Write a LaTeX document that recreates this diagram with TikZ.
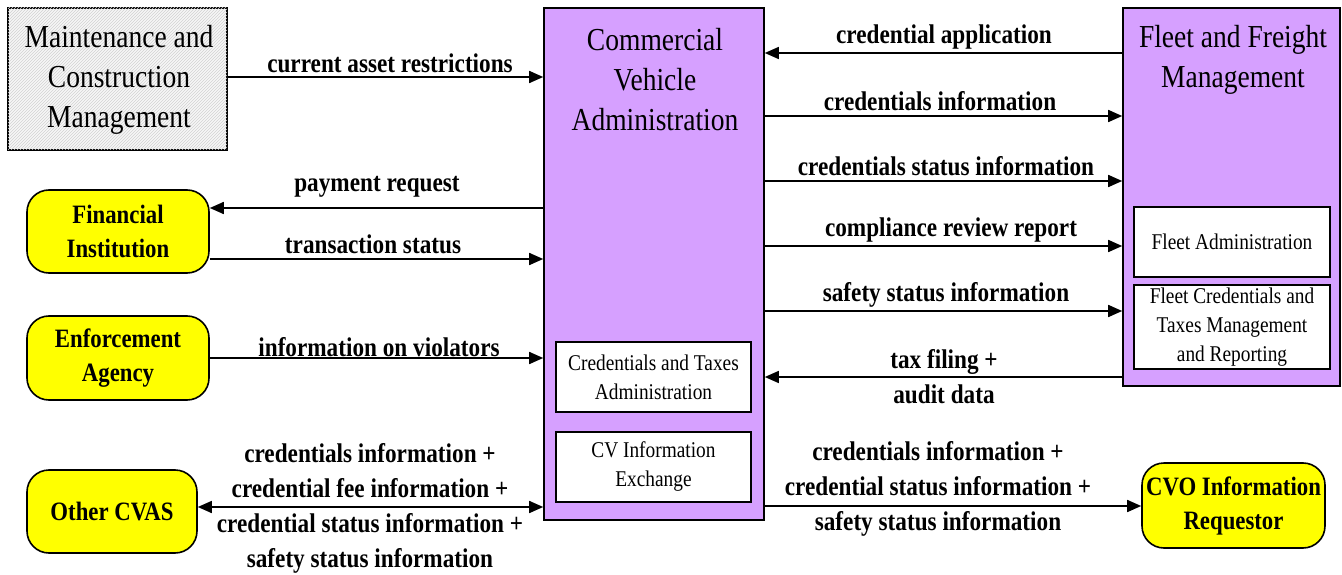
\documentclass[tikz,border=0pt]{standalone}
\usepackage{fontspec}
\setmainfont{Liberation Serif}[FakeStretch=0.86]
\usetikzlibrary{arrows.meta,patterns}
\definecolor{cvpurple}{RGB}{214,160,255}
\definecolor{tyellow}{RGB}{255,255,0}
\begin{document}
\begin{tikzpicture}[x=1pt,y=-1pt,
  bigbox/.style={draw=black, line width=1.6pt, fill=cvpurple, inner sep=0pt},
  subbox/.style={draw=black, line width=1.2pt, fill=white, inner sep=0pt, align=center, font=\fontsize{22.5}{29}\selectfont},
  termbox/.style={draw=black, line width=1.6pt, fill=tyellow, rounded corners=22pt, inner sep=0pt, align=center, font=\bfseries\fontsize{26.5}{34}\selectfont},
  titletext/.style={align=center, inner sep=0pt, font=\fontsize{32}{40}\selectfont},
  flowlabel/.style={align=center, inner sep=0pt, font=\bfseries\fontsize{27}{35}\selectfont},
  arr/.style={line width=1.6pt, -{Triangle[length=14pt,width=12pt]}},
  darr/.style={line width=1.6pt, {Triangle[length=14pt,width=12pt]}-{Triangle[length=14pt,width=12pt]}}
]
\useasboundingbox (0,0) rectangle (1342,575);

% Maintenance
\node[draw=black, line width=1.6pt, fill=gray!6, inner sep=0pt,
      minimum width=219pt, minimum height=142pt,
      postaction={pattern=north east lines, pattern color=gray!35}]
  (maint) at (117.5,79) {};
\node[titletext] (maintt) at (119,80) {Maintenance and\\Construction\\Management};

% CVA
\node[bigbox, minimum width=220pt, minimum height=512pt] (cva) at (654,264) {};
\node[titletext] (cvat) at (655,80) {Commercial\\Vehicle\\Administration};
\node[subbox, minimum width=195pt, minimum height=70pt] (cta) at (653.5,377) {Credentials and Taxes\\Administration};
\node[subbox, minimum width=195pt, minimum height=70pt] (cvie) at (653.5,467) {CV Information\\Exchange};

% Fleet
\node[bigbox, minimum width=217pt, minimum height=378pt] (fleet) at (1231.5,197) {};
\node[titletext] (fleett) at (1233,60) {Fleet and Freight\\Management};
\node[subbox, minimum width=196pt, minimum height=70pt] (fadm) at (1232,242) {Fleet Administration};
\node[subbox, minimum width=196pt, minimum height=84pt] (fctm) at (1232,327) {Fleet Credentials and\\Taxes Management\\and Reporting};

% Terminators
\node[termbox, minimum width=182pt, minimum height=83pt] (fin) at (118,231.5) {Financial\\Institution};
\node[termbox, minimum width=182pt, minimum height=84pt] (enf) at (118,358) {Enforcement\\Agency};
\node[termbox, minimum width=170pt, minimum height=83pt] (ocvas) at (112,511.5) {Other CVAS};
\node[termbox, minimum width=183pt, minimum height=85pt] (cvo) at (1233.5,505.5) {CVO Information\\Requestor};

% Flows
\draw[arr] (maint.east |- 0,77) -- (cva.west |- 0,77);
\node[flowlabel] (l1) at (390,63) {current asset restrictions};

\draw[arr] (cva.west |- 0,208) -- (fin.east |- 0,208);
\node[flowlabel] (l2) at (377,187) {payment request};

\draw[arr] (fin.east |- 0,259) -- (cva.west |- 0,259);
\node[flowlabel] (l3) at (373,244) {transaction status};

\draw[arr] (enf.east |- 0,358) -- (cva.west |- 0,358);
\node[flowlabel] (l4) at (379,347) {information on violators};

\draw[darr] (ocvas.east |- 0,507) -- (cva.west |- 0,507);
\node[flowlabel] (l5) at (370,508.5) {credentials information +\\credential fee information +\\credential status information +\\safety status information};

\draw[arr] (fleet.west |- 0,53) -- (cva.east |- 0,53);
\node[flowlabel] (r1) at (944,37) {credential application};

\draw[arr] (cva.east |- 0,116) -- (fleet.west |- 0,116);
\node[flowlabel] (r2) at (940,101) {credentials information};

\draw[arr] (cva.east |- 0,181) -- (fleet.west |- 0,181);
\node[flowlabel] (r3) at (946,166) {credentials status information};

\draw[arr] (cva.east |- 0,246) -- (fleet.west |- 0,246);
\node[flowlabel] (r4) at (951,230) {compliance review report};

\draw[arr] (cva.east |- 0,311) -- (fleet.west |- 0,311);
\node[flowlabel] (r5) at (946,295) {safety status information};

\draw[arr] (fleet.west |- 0,377) -- (cva.east |- 0,377);
\node[flowlabel] (r6) at (944,376.5) {tax filing +\\audit data};

\draw[arr] (cva.east |- 0,506) -- (cvo.west |- 0,506);
\node[flowlabel] (r7) at (938,489) {credentials information +\\credential status information +\\safety status information};

\end{tikzpicture}
\end{document}
